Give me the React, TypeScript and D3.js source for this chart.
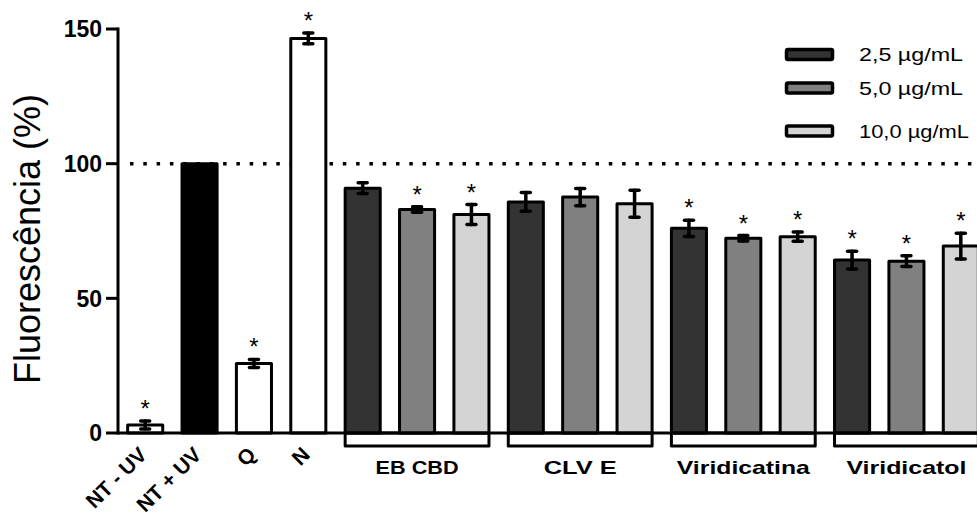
import * as d3 from 'd3'

// control bars
const controls = ['NT - UV', 'NT + UV', 'Q', 'N']
const controlValues = [3, 100, 25.8, 146.5]
const controlErrors = [1.5, 0, 1.5, 2]
const controlStars = [true, false, true, true]

// treated groups, one array per dose
const groups = ['EB CBD', 'CLV E', 'Viridicatina', 'Viridicatol']
const doses = ['2,5 µg/mL', '5,0 µg/mL', '10,0 µg/mL']
const dose25 = [90.9, 85.8, 76, 64.2]
const dose50 = [83, 87.6, 72.3, 63.8]
const dose100 = [81.1, 85.1, 72.9, 69.4]
const err25 = [2, 3.5, 3, 3.3]
const err50 = [1, 3.2, 1, 2]
const err100 = [3.7, 5, 1.7, 4.8]
const star25 = [false, false, true, true]
const star50 = [true, false, true, true]
const star100 = [true, false, true, true]

const yTicks = [0, 50, 100, 150]
const refLine = 100

const W = 977
const H = 513
const controlFill = ['#ffffff', '#000000', '#ffffff', '#ffffff']
const doseFill = ['#333333', '#808080', '#d4d4d4']
const groupLabelLen = [83, 73, 133, 120]
const legendLabelLen = [104, 104, 110]
const legendRowY = [54.5, 88, 131]

type Bar = { key: string; value: number; err: number; star: boolean; fill: string }

export default function App() {
  const doseValues = [dose25, dose50, dose100]
  const doseErrs = [err25, err50, err100]
  const doseStars = [star25, star50, star100]

  const bars: Bar[] = [
    ...controls.map((c, i) => ({ key: c, value: controlValues[i], err: controlErrors[i], star: controlStars[i], fill: controlFill[i] })),
    ...groups.flatMap((g, gi) =>
      doses.map((d, di) => ({
        key: `${g}|${d}`,
        value: doseValues[di][gi],
        err: doseErrs[di][gi],
        star: doseStars[di][gi],
        fill: doseFill[di],
      }))
    ),
  ]

  const axisX = 118
  const x = d3.scaleBand<string>()
    .domain(bars.map(b => b.key))
    .range([axisX, axisX + 16 * 54.375])
    .paddingInner(0.3)
    .paddingOuter(0.15)

  const y = d3.scaleLinear().domain([0, 150]).range([433, 29])
  const bw = x.bandwidth()
  const sw = 3

  return (
    <svg width={W} height={H} style={{ position: 'absolute', left: 0, top: 0, fontFamily: 'Liberation Sans, Arial, sans-serif' }}>
      <rect width={W} height={H} fill="#fff" />

      {/* reference line at 100% */}
      <line x1={axisX + 12} x2={W} y1={y(refLine)} y2={y(refLine)} stroke="#000" strokeWidth={3.5} strokeDasharray="3.5 9.8" />

      {/* group brackets under the axis */}
      {groups.map((g, gi) => {
        const x0 = x(`${g}|${doses[0]}`)! + sw / 2
        const x1 = x(`${g}|${doses[2]}`)! + bw - sw / 2
        return (
          <g key={g}>
            <rect x={x0} y={y(0)} width={x1 - x0} height={13} fill="#fff" stroke="#000" strokeWidth={sw} strokeLinejoin="round" />
            <text x={(x0 + x1) / 2} y={474} textAnchor="middle" fontWeight="bold" fontSize={18.5}
              textLength={groupLabelLen[gi]} lengthAdjust="spacingAndGlyphs">{g}</text>
          </g>
        )
      })}

      {bars.map(b => {
        const bx = x(b.key)!
        const cx = bx + bw / 2
        const top = y(b.value + b.err)
        return (
          <g key={b.key}>
            <rect x={bx + sw / 2} y={y(b.value)} width={bw - sw} height={y(0) - y(b.value)}
              fill={b.fill} stroke="#000" strokeWidth={sw} strokeLinejoin="round" />
            {b.err > 0 && (
              <g stroke="#000" strokeWidth={3.5} strokeLinecap="round">
                <line x1={cx} x2={cx} y1={y(b.value + b.err)} y2={y(b.value - b.err)} />
                <line x1={cx - 4.5} x2={cx + 4.5} y1={y(b.value + b.err)} y2={y(b.value + b.err)} />
                <line x1={cx - 4.5} x2={cx + 4.5} y1={y(b.value - b.err)} y2={y(b.value - b.err)} />
              </g>
            )}
            {b.star && (
              <text x={cx} y={top - 4} textAnchor="middle" fontSize={24}>*</text>
            )}
          </g>
        )
      })}

      {/* x axis */}
      <line x1={axisX} x2={W} y1={y(0)} y2={y(0)} stroke="#000" strokeWidth={3} />

      {/* y axis */}
      <line x1={axisX} x2={axisX} y1={y(150) - 1.5} y2={y(0) + 1.5} stroke="#000" strokeWidth={3} />
      {yTicks.map(t => (
        <g key={t}>
          <line x1={axisX - 12} x2={axisX} y1={y(t)} y2={y(t)} stroke="#000" strokeWidth={3} />
          <text x={102} y={y(t)} dy="0.36em" textAnchor="end" fontWeight="bold" fontSize={23}>{t}</text>
        </g>
      ))}

      <text transform={`translate(39.5,239) rotate(-90)`} textAnchor="middle" fontSize={36}>Fluorescência (%)</text>

      {/* rotated control labels */}
      {controls.map(c => {
        const cx = x(c)! + bw / 2
        return (
          <text key={c} transform={`translate(${cx + 3},456) rotate(-45)`} textAnchor="end" fontWeight="bold" fontSize={21}>{c}</text>
        )
      })}

      {/* legend */}
      {doses.map((d, i) => (
        <g key={d}>
          <rect x={786.5} y={legendRowY[i] - 5} width={46} height={10} fill={doseFill[i]} stroke="#000" strokeWidth={3.5} rx={1.5} />
          <text x={859} y={legendRowY[i]} dy="0.36em" fontSize={19}
            textLength={legendLabelLen[i]} lengthAdjust="spacingAndGlyphs">{d}</text>
        </g>
      ))}
    </svg>
  )
}
